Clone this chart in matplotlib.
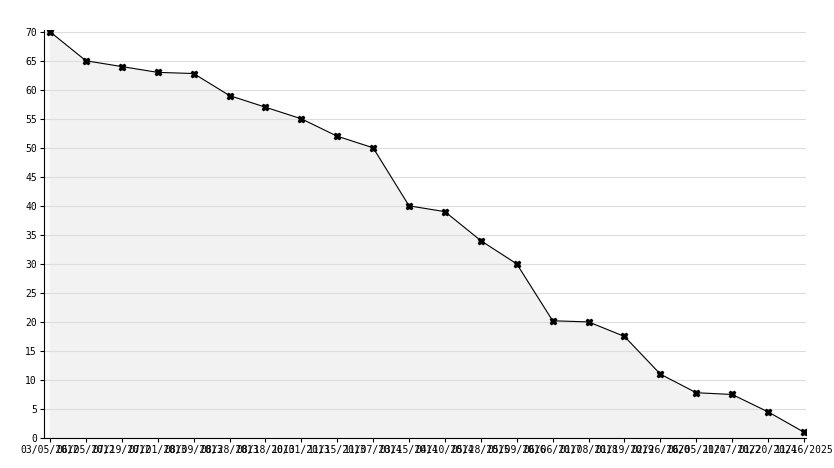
import matplotlib
matplotlib.use("Agg")
import matplotlib.pyplot as plt

dates = ["03/05/2012","06/05/2012","07/19/2012","07/01/2013","08/09/2013","08/28/2013",
         "08/18/2013","10/01/2013","11/15/2013","11/07/2014","03/15/2014","04/10/2014",
         "05/28/2015","05/09/2016","06/06/2017","01/08/2018","01/19/2019","02/26/2020",
         "06/05/2021","11/07/2022","01/20/2024","11/16/2025"]
values = [70, 65, 64, 63, 62.8, 59, 57, 55, 52, 50, 40, 39, 34, 30, 20.2, 20, 17.5,
          11, 7.8, 7.5, 4.5, 1]

fig = plt.figure(figsize=(8.34, 4.68), dpi=100)
ax = fig.add_axes([44/834, 30/468, (806-44)/834, (438-30)/468])
x = list(range(len(values)))
ax.fill_between(x, values, 0, color="#f2f2f2", zorder=1)
ax.plot(x, values, color="black", lw=0.8, marker="X", ms=4.5, zorder=3)
ax.set_xlim(-0.167, len(values) - 1 + 0.056)
ax.set_ylim(0, 70.3)
ax.set_yticks(range(0, 71, 5))
ax.yaxis.grid(True, color="#dddddd", lw=0.8, zorder=0)
ax.set_xticks(x)
ax.set_xticklabels(dates, family="DejaVu Sans Mono", fontsize=7)
for lab in ax.get_yticklabels():
    lab.set_fontsize(7)
    lab.set_family("DejaVu Sans Mono")
for s in ["top", "right"]:
    ax.spines[s].set_visible(False)
ax.tick_params(axis="both", length=3, pad=2)
fig.savefig("out.png", dpi=100)
